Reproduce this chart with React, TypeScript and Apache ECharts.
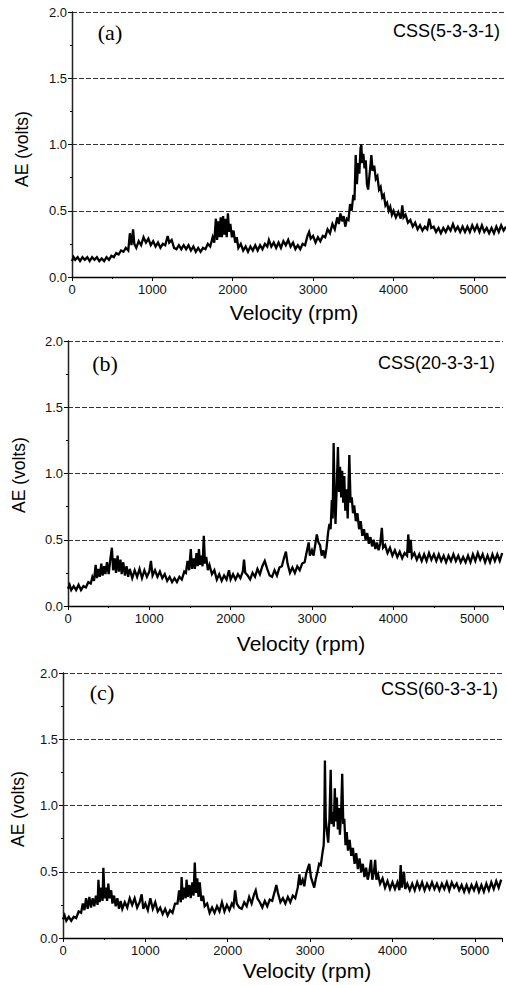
import React, { useEffect, useRef } from "react";
import * as echarts from "echarts";

const panelLabels = ["(a)", "(b)", "(c)"];
const sampleLabels = ["CSS(5-3-3-1)", "CSS(20-3-3-1)", "CSS(60-3-3-1)"];
const xTitle = "Velocity (rpm)";
const yTitle = "AE (volts)";
const xMaxes = [5400, 5350, 5330];

const seriesA: number[][] = [
[0,0.12],[20,0.15],[40,0.13],[70,0.15],[100,0.12],[130,0.15],[160,0.13],[190,0.15],[220,0.12],[250,0.15],[280,0.13],[310,0.15],[340,0.12],[370,0.14],[400,0.12],[430,0.15],[460,0.13],[490,0.16],[520,0.15],[550,0.18],[580,0.17],[610,0.2],[640,0.19],[670,0.22],[700,0.2],[720,0.33],[740,0.24],[760,0.36],[775,0.25],[800,0.22],[830,0.27],[860,0.24],[890,0.3],[920,0.26],[950,0.29],[980,0.24],[1010,0.27],[1040,0.23],[1070,0.26],[1100,0.22],[1130,0.25],[1160,0.24],[1190,0.31],[1210,0.26],[1240,0.28],[1270,0.22],[1300,0.21],[1330,0.24],[1360,0.21],[1390,0.24],[1420,0.21],[1450,0.24],[1480,0.2],[1510,0.23],[1540,0.19],[1570,0.22],[1600,0.19],[1630,0.22],[1660,0.21],[1690,0.25],[1720,0.23],[1750,0.3],[1770,0.26],[1790,0.44],[1805,0.28],[1820,0.42],[1835,0.3],[1850,0.45],[1865,0.3],[1880,0.46],[1895,0.32],[1910,0.44],[1925,0.3],[1940,0.48],[1955,0.34],[1970,0.4],[1990,0.3],[2010,0.35],[2030,0.26],[2050,0.3],[2070,0.22],[2100,0.25],[2130,0.2],[2160,0.23],[2190,0.19],[2220,0.23],[2250,0.2],[2280,0.24],[2310,0.2],[2340,0.24],[2370,0.21],[2400,0.25],[2430,0.23],[2450,0.28],[2480,0.23],[2510,0.26],[2540,0.22],[2570,0.26],[2600,0.22],[2630,0.27],[2660,0.24],[2690,0.28],[2720,0.23],[2750,0.26],[2780,0.21],[2810,0.24],[2840,0.21],[2870,0.25],[2900,0.24],[2930,0.31],[2950,0.34],[2970,0.29],[3000,0.31],[3030,0.26],[3060,0.3],[3090,0.27],[3120,0.31],[3150,0.3],[3180,0.36],[3210,0.33],[3240,0.4],[3270,0.36],[3300,0.45],[3320,0.4],[3340,0.48],[3360,0.42],[3380,0.46],[3400,0.38],[3420,0.44],[3440,0.43],[3460,0.55],[3480,0.5],[3500,0.62],[3515,0.58],[3530,0.92],[3545,0.7],[3560,0.86],[3575,0.78],[3590,0.97],[3600,1.0],[3610,0.86],[3625,0.93],[3640,0.82],[3655,0.88],[3670,0.7],[3685,0.66],[3700,0.76],[3715,0.85],[3725,0.92],[3740,0.8],[3760,0.84],[3780,0.74],[3800,0.76],[3820,0.66],[3840,0.68],[3860,0.6],[3880,0.62],[3900,0.54],[3920,0.56],[3940,0.5],[3960,0.53],[3980,0.47],[4000,0.5],[4030,0.45],[4060,0.49],[4090,0.44],[4110,0.54],[4125,0.45],[4150,0.47],[4180,0.41],[4210,0.43],[4240,0.38],[4270,0.41],[4300,0.36],[4330,0.39],[4360,0.35],[4390,0.38],[4420,0.36],[4445,0.44],[4470,0.37],[4500,0.38],[4530,0.34],[4560,0.37],[4590,0.33],[4620,0.37],[4650,0.34],[4680,0.38],[4710,0.35],[4740,0.4],[4770,0.35],[4800,0.38],[4830,0.34],[4860,0.38],[4890,0.34],[4920,0.38],[4950,0.34],[4980,0.39],[5010,0.35],[5040,0.39],[5070,0.34],[5100,0.39],[5130,0.34],[5160,0.37],[5190,0.33],[5220,0.37],[5250,0.33],[5280,0.38],[5310,0.34],[5340,0.39],[5370,0.35],[5400,0.38]
];

const seriesB: number[][] = [
[0,0.13],[20,0.16],[40,0.12],[70,0.15],[100,0.12],[130,0.16],[160,0.12],[190,0.15],[220,0.14],[250,0.18],[280,0.17],[300,0.22],[320,0.19],[340,0.31],[355,0.21],[375,0.28],[390,0.22],[410,0.32],[425,0.23],[445,0.3],[460,0.24],[480,0.33],[500,0.24],[520,0.35],[540,0.44],[555,0.27],[575,0.36],[590,0.25],[610,0.38],[625,0.26],[645,0.35],[660,0.24],[680,0.33],[700,0.23],[720,0.3],[740,0.22],[760,0.28],[790,0.21],[820,0.27],[850,0.22],[880,0.28],[910,0.21],[940,0.27],[970,0.22],[1000,0.26],[1020,0.34],[1040,0.23],[1070,0.27],[1100,0.22],[1130,0.26],[1160,0.21],[1190,0.24],[1220,0.19],[1250,0.22],[1280,0.18],[1310,0.21],[1340,0.18],[1370,0.22],[1400,0.2],[1430,0.26],[1450,0.25],[1470,0.34],[1490,0.27],[1510,0.43],[1525,0.28],[1545,0.36],[1560,0.28],[1580,0.4],[1595,0.3],[1610,0.43],[1625,0.31],[1640,0.38],[1655,0.3],[1670,0.53],[1685,0.32],[1700,0.37],[1720,0.27],[1740,0.31],[1770,0.24],[1800,0.27],[1830,0.2],[1860,0.24],[1890,0.19],[1920,0.23],[1950,0.2],[1980,0.27],[2000,0.2],[2030,0.24],[2060,0.2],[2090,0.24],[2120,0.21],[2150,0.26],[2165,0.35],[2180,0.25],[2210,0.23],[2240,0.2],[2270,0.25],[2300,0.22],[2330,0.28],[2360,0.24],[2390,0.3],[2420,0.34],[2450,0.28],[2480,0.23],[2510,0.22],[2540,0.27],[2570,0.23],[2600,0.29],[2630,0.3],[2660,0.37],[2680,0.41],[2700,0.32],[2730,0.25],[2760,0.29],[2790,0.25],[2820,0.3],[2850,0.27],[2880,0.32],[2910,0.33],[2940,0.42],[2960,0.48],[2975,0.38],[3000,0.42],[3020,0.38],[3040,0.46],[3060,0.54],[3080,0.48],[3100,0.46],[3120,0.38],[3140,0.42],[3160,0.36],[3180,0.44],[3200,0.56],[3215,0.62],[3230,0.58],[3245,0.8],[3255,0.66],[3267,1.23],[3278,0.85],[3290,0.62],[3305,0.9],[3320,1.2],[3333,0.86],[3346,1.05],[3360,0.82],[3372,1.02],[3385,0.78],[3398,0.98],[3410,0.72],[3425,0.88],[3440,0.66],[3460,1.14],[3475,0.78],[3490,0.82],[3505,0.7],[3520,0.76],[3540,0.64],[3560,0.7],[3580,0.58],[3600,0.64],[3620,0.53],[3640,0.58],[3660,0.5],[3680,0.55],[3700,0.47],[3720,0.52],[3740,0.45],[3760,0.5],[3780,0.43],[3800,0.48],[3820,0.42],[3840,0.47],[3860,0.59],[3875,0.44],[3900,0.46],[3930,0.4],[3960,0.44],[3990,0.38],[4020,0.42],[4050,0.37],[4080,0.41],[4110,0.36],[4140,0.4],[4170,0.38],[4185,0.54],[4200,0.4],[4215,0.5],[4230,0.37],[4260,0.4],[4290,0.35],[4320,0.39],[4350,0.34],[4380,0.39],[4410,0.34],[4440,0.4],[4470,0.35],[4500,0.39],[4530,0.34],[4560,0.39],[4590,0.34],[4620,0.38],[4650,0.33],[4680,0.38],[4710,0.34],[4740,0.39],[4770,0.34],[4800,0.38],[4830,0.33],[4860,0.37],[4890,0.33],[4920,0.38],[4950,0.33],[4980,0.39],[5010,0.34],[5040,0.4],[5070,0.35],[5100,0.39],[5130,0.33],[5160,0.38],[5190,0.33],[5220,0.39],[5250,0.34],[5280,0.39],[5310,0.34],[5340,0.4]
];

const seriesC: number[][] = [
[0,0.14],[20,0.17],[40,0.13],[70,0.16],[100,0.13],[130,0.16],[160,0.15],[190,0.2],[220,0.19],[240,0.26],[260,0.21],[280,0.3],[300,0.22],[320,0.31],[340,0.23],[360,0.3],[380,0.24],[400,0.32],[420,0.25],[430,0.44],[445,0.27],[465,0.38],[480,0.28],[490,0.53],[505,0.3],[520,0.38],[535,0.28],[550,0.41],[565,0.3],[585,0.36],[600,0.26],[620,0.32],[640,0.24],[660,0.3],[680,0.22],[700,0.28],[720,0.22],[750,0.27],[780,0.23],[810,0.3],[840,0.25],[870,0.3],[900,0.23],[930,0.27],[955,0.33],[975,0.22],[1000,0.26],[1030,0.21],[1060,0.3],[1090,0.22],[1120,0.27],[1150,0.2],[1180,0.23],[1210,0.18],[1240,0.22],[1270,0.17],[1300,0.21],[1330,0.19],[1360,0.26],[1390,0.26],[1410,0.36],[1430,0.27],[1440,0.46],[1455,0.29],[1475,0.38],[1490,0.3],[1500,0.44],[1515,0.31],[1535,0.4],[1550,0.3],[1570,0.42],[1585,0.32],[1600,0.57],[1615,0.34],[1630,0.45],[1645,0.31],[1660,0.42],[1680,0.28],[1700,0.32],[1720,0.24],[1750,0.26],[1780,0.19],[1810,0.23],[1840,0.19],[1870,0.24],[1900,0.2],[1930,0.27],[1960,0.2],[1990,0.25],[2020,0.21],[2050,0.26],[2070,0.24],[2090,0.36],[2110,0.26],[2140,0.23],[2170,0.22],[2200,0.27],[2230,0.24],[2260,0.31],[2290,0.26],[2320,0.33],[2340,0.36],[2360,0.3],[2390,0.27],[2420,0.23],[2450,0.28],[2480,0.24],[2510,0.29],[2540,0.28],[2570,0.35],[2590,0.4],[2610,0.34],[2640,0.27],[2670,0.3],[2700,0.26],[2730,0.31],[2760,0.27],[2790,0.32],[2820,0.3],[2850,0.38],[2870,0.48],[2885,0.4],[2910,0.44],[2930,0.39],[2950,0.48],[2970,0.52],[2990,0.56],[3010,0.46],[3030,0.42],[3050,0.38],[3070,0.45],[3090,0.5],[3110,0.56],[3130,0.55],[3150,0.64],[3165,0.7],[3172,0.83],[3180,1.34],[3190,0.9],[3205,0.8],[3220,0.72],[3235,0.9],[3250,1.27],[3262,0.86],[3275,0.95],[3288,0.84],[3300,1.13],[3312,0.88],[3325,1.06],[3337,0.82],[3350,0.98],[3362,0.78],[3375,0.92],[3390,1.24],[3403,0.86],[3415,0.9],[3430,0.7],[3445,0.8],[3460,0.66],[3480,0.74],[3500,0.62],[3520,0.68],[3540,0.56],[3560,0.64],[3580,0.52],[3600,0.6],[3620,0.5],[3640,0.56],[3660,0.46],[3680,0.53],[3700,0.44],[3720,0.5],[3740,0.59],[3755,0.44],[3775,0.5],[3790,0.59],[3805,0.44],[3825,0.48],[3850,0.41],[3880,0.45],[3910,0.38],[3940,0.43],[3970,0.37],[4000,0.42],[4030,0.37],[4060,0.42],[4085,0.36],[4100,0.55],[4115,0.38],[4140,0.5],[4155,0.37],[4180,0.41],[4210,0.36],[4240,0.41],[4270,0.36],[4300,0.42],[4330,0.37],[4360,0.42],[4390,0.36],[4420,0.41],[4450,0.37],[4480,0.42],[4510,0.37],[4540,0.41],[4570,0.36],[4600,0.41],[4630,0.37],[4660,0.42],[4690,0.36],[4720,0.42],[4750,0.38],[4780,0.41],[4810,0.36],[4840,0.4],[4870,0.35],[4900,0.4],[4930,0.35],[4960,0.4],[4990,0.36],[5020,0.41],[5050,0.35],[5080,0.4],[5110,0.35],[5140,0.41],[5170,0.36],[5200,0.42],[5230,0.37],[5260,0.43],[5290,0.38],[5320,0.44]
];

const allSeries = [seriesA, seriesB, seriesC];

// layout (pixels)
const grids = [
  { left: 72, top: 12, width: 435, height: 265 },
  { left: 68, top: 341, width: 435, height: 265 },
  { left: 63, top: 673, width: 439, height: 265 },
];
const xTitlePos = [[294, 312], [301, 643], [307, 970]];
const yTitlePos = [[22, 149], [19, 475], [18, 809]];
const panelLabelPos = [[110, 32], [105, 363], [102, 692]];
const sampleLabelPos = [[500, 31], [495, 363], [498, 689]];

export default function App() {
  const ref = useRef<HTMLDivElement>(null);
  useEffect(() => {
    if (!ref.current) return;
    const chart = echarts.init(ref.current, undefined, { renderer: "svg" });
    const font = "Liberation Sans, Arial, sans-serif";
    const xAxes: any[] = [];
    const yAxes: any[] = [];
    grids.forEach((g, i) => {
      xAxes.push({
        type: "value", gridIndex: i, min: 0, max: xMaxes[i], interval: 1000,
        axisLine: { show: true, lineStyle: { color: "#000", width: 1.3 } },
        axisTick: { show: true, inside: false, length: 4, lineStyle: { color: "#000" } },
        minorTick: { show: true, splitNumber: 2, length: 2, lineStyle: { color: "#000" } },
        axisLabel: { show: true, color: "#111", fontSize: 13, fontFamily: font, margin: 6, showMaxLabel: false,
          formatter: (v: number) => (v % 1000 === 0 ? String(v) : "") },
        splitLine: { show: false },
      });
    });
    grids.forEach((g, i) => {
      xAxes.push({
        type: "value", gridIndex: i, position: "top", min: 0, max: xMaxes[i], interval: 1000,
        axisLine: { show: false },
        axisTick: { show: true, inside: true, length: 4, lineStyle: { color: "#000" } },
        axisLabel: { show: false },
        splitLine: { show: false },
      });
    });
    grids.forEach((g, i) => {
      yAxes.push({
        type: "value", gridIndex: i, min: 0, max: 2, interval: 0.5,
        axisLine: { show: true, lineStyle: { color: "#000", width: 1.3 } },
        axisTick: { show: true, inside: false, length: 4, lineStyle: { color: "#000" } },
        minorTick: { show: true, splitNumber: 2, length: 2, lineStyle: { color: "#000" } },
        axisLabel: { show: true, color: "#111", fontSize: 13, fontFamily: font, margin: 5,
          formatter: (v: number) => v.toFixed(1) },
        splitLine: { show: true, lineStyle: { color: "#333", width: 1, type: [5, 2] } },
      });
    });
    grids.forEach((g, i) => {
      yAxes.push({
        type: "value", gridIndex: i, position: "right", min: 0, max: 2, interval: 0.5,
        axisLine: { show: true, lineStyle: { color: "#222", width: 1.2 } },
        axisTick: { show: false },
        axisLabel: { show: false },
        splitLine: { show: false },
      });
    });
    const graphics: any[] = [];
    for (let i = 0; i < 3; i++) {
      graphics.push({ type: "text", x: xTitlePos[i][0], y: xTitlePos[i][1],
        style: { text: xTitle, fill: "#000", font: `21px ${font}`, textAlign: "center", textVerticalAlign: "middle" } });
      graphics.push({ type: "text", x: yTitlePos[i][0], y: yTitlePos[i][1], rotation: Math.PI / 2,
        style: { text: yTitle, fill: "#000", font: `17.5px ${font}`, textAlign: "center", textVerticalAlign: "middle" } });
      graphics.push({ type: "text", x: panelLabelPos[i][0], y: panelLabelPos[i][1],
        style: { text: panelLabels[i], fill: "#000", font: `22px "Liberation Serif", "Times New Roman", serif`, textAlign: "center", textVerticalAlign: "middle" } });
      graphics.push({ type: "text", x: sampleLabelPos[i][0], y: sampleLabelPos[i][1],
        style: { text: sampleLabels[i], fill: "#000", font: `18px ${font}`, textAlign: "right", textVerticalAlign: "middle" } });
    }
    chart.setOption({
      animation: false,
      backgroundColor: "#fff",
      grid: grids.map((g) => ({ ...g, containLabel: false })),
      xAxis: xAxes,
      yAxis: yAxes,
      series: allSeries.map((d, i) => ({
        type: "line", xAxisIndex: i, yAxisIndex: i, data: d, showSymbol: false, symbol: "none",
        lineStyle: { color: "#000", width: 2.3, join: "miter", miterLimit: 4 }, z: 5,
      })),
      graphic: graphics,
    });
    return () => chart.dispose();
  }, []);
  return <div ref={ref} style={{ position: "absolute", left: 0, top: 0, width: 506, height: 985 }} />;
}
